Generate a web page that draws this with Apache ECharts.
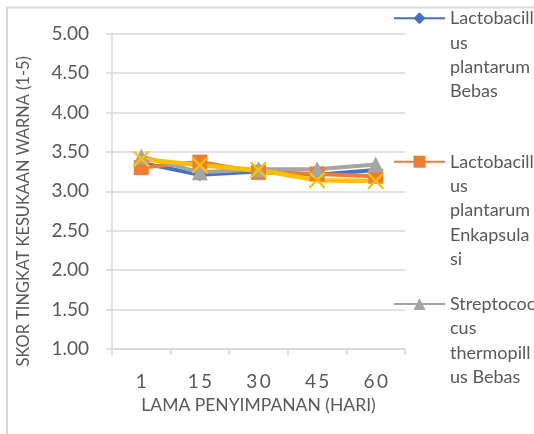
<!DOCTYPE html>
<html><head><meta charset="utf-8">
<script src="https://cdn.jsdelivr.net/npm/echarts@6/dist/echarts.min.js"></script>
<style>html,body{margin:0;padding:0;background:#fff}#c{width:534px;height:434px}</style>
</head><body><div id="c"></div>
<script>
const categories = ['1', '15', '30', '45', '60'];
const seriesNames = [
  'Lactobacillus plantarum Bebas',
  'Lactobacillus plantarum Enkapsulasi',
  'Streptococcus thermopillus Bebas',
  'Streptococcus thermopillus Enkapsulasi'
];
const lpBebas = [3.36, 3.21, 3.25, 3.21, 3.27];
const lpEnkapsulasi = [3.30, 3.37, 3.24, 3.22, 3.19];
const stBebas = [3.44, 3.24, 3.28, 3.28, 3.34];
const stEnkapsulasi = [3.41, 3.33, 3.27, 3.14, 3.13];
const yMin = 1, yMax = 5, yStep = 0.5;
const xTitle = 'LAMA PENYIMPANAN (HARI)';
const yTitle = 'SKOR TINGKAT KESUKAAN WARNA (1-5)';
const legendWrapped = {
  'Lactobacillus plantarum Bebas': ['Lactobacill', 'us', 'plantarum', 'Bebas'],
  'Lactobacillus plantarum Enkapsulasi': ['Lactobacill', 'us', 'plantarum', 'Enkapsula', 'si'],
  'Streptococcus thermopillus Bebas': ['Streptococ', 'cus', 'thermopill', 'us Bebas']
};

const colors = ['#4472C4', '#ED7D31', '#A5A5A5', '#FFC000'];
const FONT = 'Lato';
const TXT = '#595959';
const GRID = '#D9D9D9';
const LH = 24.4;
const xPath = 'path://M0,0 L2,0 L10,8 L18,0 L20,0 L20,2 L12,10 L20,18 L20,20 L18,20 L10,12 L2,20 L0,20 L0,18 L8,10 L0,2 Z';

function legendFor(name, firstLineY) {
  const lines = legendWrapped[name];
  const n = lines.length;
  const text = new Array(n - 1).fill('').concat(lines).join('\n');
  return {
    show: true,
    orient: 'vertical',
    left: 393,
    top: firstLineY - (2 * n - 1) * LH / 2,
    padding: 0,
    itemWidth: 51,
    itemHeight: 15,
    data: [name],
    selectedMode: false,
    formatter: () => text,
    textStyle: { fontFamily: FONT, fontSize: 18, color: TXT, lineHeight: LH }
  };
}

const chart = echarts.init(document.getElementById('c'), null, { renderer: 'canvas' });
chart.setOption({
  animation: false,
  backgroundColor: '#fff',
  color: colors,
  graphic: [{
    type: 'rect', shape: { x: 7, y: 7.5, width: 700, height: 600 },
    style: { fill: 'none', stroke: GRID, lineWidth: 2 }, silent: true, z: -1
  }],
  grid: { left: 112, right: 129, top: 33.5, bottom: 85, containLabel: false },
  legend: [
    legendFor(seriesNames[0], 18.3),
    legendFor(seriesNames[1], 161.7),
    legendFor(seriesNames[2], 304)
  ],
  xAxis: {
    type: 'category',
    data: categories,
    boundaryGap: true,
    name: xTitle,
    nameLocation: 'middle',
    nameGap: 43,
    nameTextStyle: { fontFamily: FONT, fontSize: 17.5, color: TXT },
    axisLine: { lineStyle: { color: GRID, width: 1.5 } },
    axisTick: { show: true, length: 6, lineStyle: { color: GRID, width: 1.5 } },
    axisLabel: {
      fontFamily: FONT, fontSize: 19, color: TXT, margin: 23,
      formatter: v => v.split('').join('\u2009')
    }
  },
  yAxis: {
    type: 'value',
    min: yMin, max: yMax, interval: yStep,
    name: yTitle,
    nameLocation: 'middle',
    nameGap: 80,
    nameTextStyle: { fontFamily: FONT, fontSize: 16.4, color: TXT, padding: [0, 40, 0, 0] },
    axisLine: { show: true, lineStyle: { color: GRID, width: 1.5 } },
    axisTick: { show: true, length: 6, lineStyle: { color: GRID, width: 1.5 } },
    splitLine: { lineStyle: { color: GRID, width: 1.5 } },
    axisLabel: {
      fontFamily: FONT, fontSize: 19, color: TXT, margin: 23,
      formatter: v => v.toFixed(2)
    }
  },
  series: [
    { name: seriesNames[0], type: 'line', data: lpBebas, symbol: 'diamond', symbolSize: 13,
      lineStyle: { width: 4 }, itemStyle: { color: colors[0] } },
    { name: seriesNames[1], type: 'line', data: lpEnkapsulasi, symbol: 'rect', symbolSize: 15,
      lineStyle: { width: 4 }, itemStyle: { color: colors[1] } },
    { name: seriesNames[2], type: 'line', data: stBebas, symbol: 'triangle', symbolSize: 16,
      lineStyle: { width: 4 }, itemStyle: { color: colors[2] } },
    { name: seriesNames[3], type: 'line', data: stEnkapsulasi, symbol: xPath, symbolSize: 16,
      lineStyle: { width: 4.5 }, itemStyle: { color: colors[3] } }
  ]
});
</script></body></html>
